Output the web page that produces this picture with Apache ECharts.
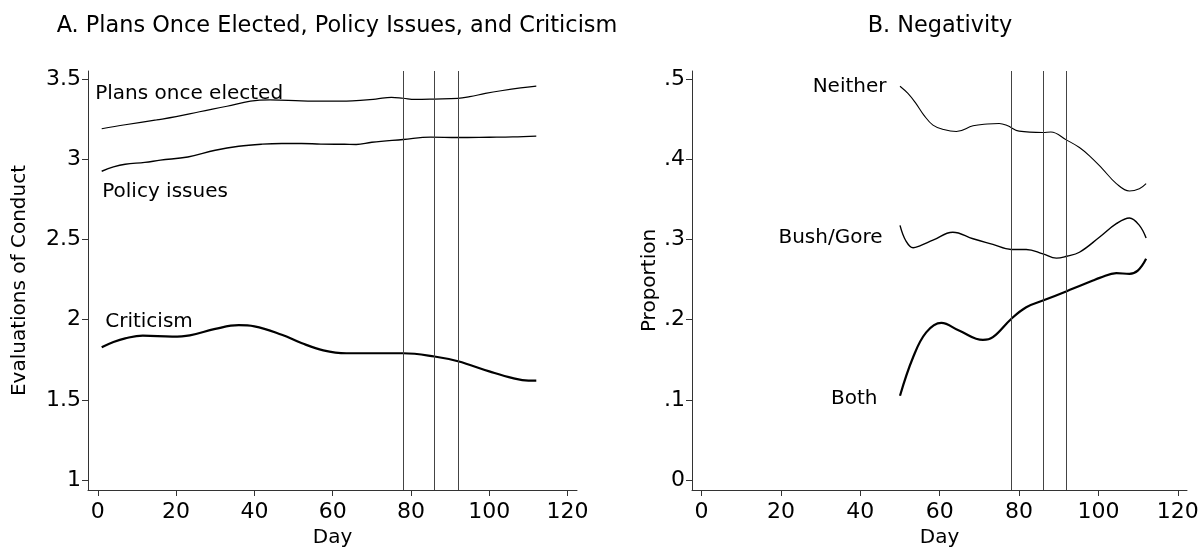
<!DOCTYPE html>
<html>
<head>
<meta charset="utf-8">
<script src="https://cdn.jsdelivr.net/npm/echarts@6/dist/echarts.min.js"></script>
<style>
html,body{margin:0;padding:0;background:#fff;}
#chart{width:1202px;height:555px;}
</style>
</head>
<body>
<div id="chart"></div>
<script>
// ---- Data ----
const xTicks = [0, 20, 40, 60, 80, 100, 120];
const yTicksA = [1, 1.5, 2, 2.5, 3, 3.5];
const yTicksB = [0, 0.1, 0.2, 0.3, 0.4, 0.5];
const eventDays = [78, 86, 92];

const plansDays = [1, 7, 15, 20, 26, 33, 39, 44, 52, 58, 65, 71, 75, 78, 81, 86, 92, 95, 99, 103, 108, 112];
const plansVals = [3.19, 3.215, 3.245, 3.265, 3.296, 3.33, 3.362, 3.37, 3.364, 3.362, 3.364, 3.375, 3.386, 3.38, 3.373, 3.375, 3.379, 3.39, 3.41, 3.427, 3.445, 3.456];

const policyDays = [1, 4, 7, 12, 16, 23, 30, 36, 42, 47, 52, 57, 63, 66, 70, 78, 85, 92, 100, 106, 112];
const policyVals = [2.925, 2.952, 2.969, 2.98, 2.994, 3.014, 3.056, 3.081, 3.094, 3.098, 3.098, 3.094, 3.093, 3.092, 3.106, 3.123, 3.1375, 3.135, 3.137, 3.139, 3.144];

const critDays = [1, 4, 7, 11.5, 19, 23.5, 30, 36, 40, 47, 52, 57.6, 63.5, 70, 78, 86, 92, 100, 106, 110, 112];
const critVals = [1.827, 1.86, 1.883, 1.9, 1.894, 1.902, 1.942, 1.965, 1.958, 1.906, 1.854, 1.808, 1.79, 1.79, 1.79, 1.77, 1.74, 1.677, 1.635, 1.62, 1.62];

const neitherDays = [50, 52, 54, 56, 58.3, 61, 64.2, 68.4, 72, 75, 77, 80, 86, 88, 92, 95.2, 98, 101, 104.5, 107.8, 110.3, 112];
const neitherVals = [0.491, 0.482, 0.4696, 0.455, 0.4425, 0.437, 0.4346, 0.4417, 0.444, 0.4446, 0.442, 0.435, 0.4333, 0.434, 0.4238, 0.4146, 0.403, 0.388, 0.3696, 0.3604, 0.3633, 0.3696];

const bushGoreDays = [50, 51.5, 53.3, 55, 58.3, 63.3, 68.4, 73.4, 78, 81.8, 86, 89.4, 92, 95.2, 100.3, 104.5, 107.8, 110.3, 112];
const bushGoreVals = [0.3175, 0.298, 0.2896, 0.292, 0.299, 0.309, 0.3008, 0.2938, 0.2875, 0.2875, 0.282, 0.2766, 0.279, 0.284, 0.303, 0.3196, 0.3267, 0.3175, 0.3017];

const bothDays = [50, 53.3, 56.6, 60.4, 65, 70.9, 73.4, 78, 81.8, 86, 92, 95.2, 98.6, 100.3, 104.5, 107.8, 109.9, 112];
const bothVals = [0.105, 0.153, 0.184, 0.1958, 0.186, 0.1746, 0.178, 0.2008, 0.2154, 0.2237, 0.2354, 0.242, 0.2488, 0.252, 0.2579, 0.2571, 0.261, 0.2758];

// ---- Chart ----
const FONT = 'DejaVu Sans';
const zip = (xs, ys) => xs.map((x, i) => [x, ys[i]]);

function xAxis(gi, min, max) {
  return {
    type: 'value', gridIndex: gi, min: min, max: max,
    name: 'Day', nameLocation: 'middle', nameGap: 38,
    nameTextStyle: {fontFamily: FONT, fontSize: 20, color: '#000'},
    axisLine: {show: true, onZero: false, lineStyle: {color: '#333', width: 1}},
    axisTick: {show: true, length: 6, lineStyle: {color: '#333'}, customValues: xTicks},
    axisLabel: {customValues: xTicks, fontFamily: FONT, fontSize: 22, color: '#000', margin: 11},
    splitLine: {show: false}
  };
}
function yAxis(gi, min, max, ticks, name, gap, fmt) {
  return {
    type: 'value', gridIndex: gi, min: min, max: max,
    name: name, nameLocation: 'middle', nameGap: gap, nameRotate: 90,
    nameTextStyle: {fontFamily: FONT, fontSize: 20, color: '#000'},
    axisLine: {show: true, onZero: false, lineStyle: {color: '#333', width: 1}},
    axisTick: {show: true, length: 6, lineStyle: {color: '#333'}, customValues: ticks},
    axisLabel: {customValues: ticks, fontFamily: FONT, fontSize: 22, color: '#000', margin: 7, formatter: fmt},
    splitLine: {show: false}
  };
}

function lineSeries(name, gi, days, vals, width, withEvents) {
  const s = {
    name: name, type: 'line', xAxisIndex: gi, yAxisIndex: gi,
    data: zip(days, vals), smooth: 0.4, showSymbol: false, symbol: 'none',
    lineStyle: {color: '#000', width: width}, silent: true, z: 3
  };
  if (withEvents) {
    s.markLine = {
      silent: true, symbol: 'none', label: {show: false},
      lineStyle: {color: '#444', width: 1, type: 'solid'},
      data: eventDays.map(d => ({xAxis: d}))
    };
  }
  return s;
}

function labelSeries(name, gi, days, vals, pos, dist, offset) {
  return {
    type: 'scatter', xAxisIndex: gi, yAxisIndex: gi, silent: true,
    symbolSize: 1, itemStyle: {color: '#fff', opacity: 1},
    data: [[days[0], vals[0]]],
    label: {show: true, formatter: name, position: pos, distance: dist, offset: offset,
      fontFamily: FONT, fontSize: 20, color: '#000', textBorderWidth: 0, opacity: 1},
    z: 1
  };
}

const fmtA = v => String(v);
const fmtB = v => v === 0 ? '0' : String(Math.round(v * 10) / 10).replace(/^0/, '');

const option = {
  animation: false,
  backgroundColor: '#fff',
  title: [
    {text: 'A. Plans Once Elected, Policy Issues, and Criticism', left: 332, top: 10, textAlign: 'center',
     textStyle: {fontFamily: FONT, fontSize: 22.4, fontWeight: 'normal', color: '#000'}},
    {text: 'B. Negativity', left: 935, top: 10, textAlign: 'center',
     textStyle: {fontFamily: FONT, fontSize: 22.4, fontWeight: 'normal', color: '#000'}}
  ],
  grid: [
    {left: 88, top: 71, width: 489, height: 419},
    {left: 692, top: 71, width: 495, height: 419}
  ],
  xAxis: [xAxis(0, -2.5, 122.4), xAxis(1, -2.4, 122.3)],
  yAxis: [
    yAxis(0, 0.9375, 3.55, yTicksA, 'Evaluations of Conduct', 58, fmtA),
    yAxis(1, -0.0125, 0.51, yTicksB, 'Proportion', 30, fmtB)
  ],
  series: [
    lineSeries('Plans once elected', 0, plansDays, plansVals, 1.2, true),
    lineSeries('Policy issues', 0, policyDays, policyVals, 1.4, false),
    lineSeries('Criticism', 0, critDays, critVals, 2.2, false),
    lineSeries('Neither', 1, neitherDays, neitherVals, 1.1, true),
    lineSeries('Bush/Gore', 1, bushGoreDays, bushGoreVals, 1.4, false),
    lineSeries('Both', 1, bothDays, bothVals, 2.2, false),
    labelSeries('Plans once elected', 0, plansDays, plansVals, 'right', 0, [-7, -35]),
    labelSeries('Policy issues', 0, policyDays, policyVals, 'right', 0, [0, 21]),
    labelSeries('Criticism', 0, critDays, critVals, 'right', 0, [3, -26]),
    labelSeries('Neither', 1, neitherDays, neitherVals, 'left', 13, [0, 1]),
    labelSeries('Bush/Gore', 1, bushGoreDays, bushGoreVals, 'left', 17, [0, 12]),
    labelSeries('Both', 1, bothDays, bothVals, 'left', 22, [0, 3])
  ]
};

const chart = echarts.init(document.getElementById('chart'), null, {renderer: 'canvas'});
chart.setOption(option);
</script>
</body>
</html>
